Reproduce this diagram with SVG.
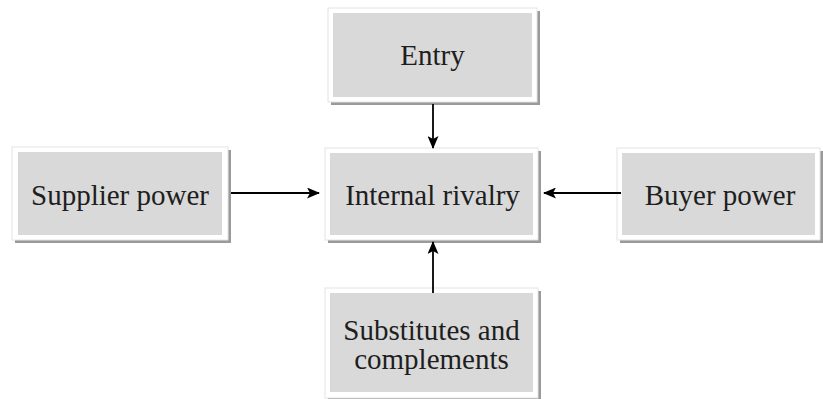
<svg xmlns="http://www.w3.org/2000/svg" width="823" height="399" viewBox="0 0 823 399">
  <defs>
    <style>
      .shadow { fill: #9a9a9a; }
      .frame { fill: #ffffff; stroke: #e4e4e4; stroke-width: 1; }
      .face { fill: #d9d9d9; }
      .label { font-family: "Liberation Serif", "Times New Roman", serif; font-size: 29px; fill: #1e1e1e; text-anchor: middle; }
      .link { stroke: #000000; stroke-width: 1.8; fill: none; marker-end: url(#head); }
    </style>
    <marker id="head" viewBox="0 0 13 11" refX="12" refY="5.5" markerWidth="13" markerHeight="11" markerUnits="userSpaceOnUse" orient="auto">
      <path d="M0,0 L13,5.5 L0,11 L3,5.5 Z" fill="#000000"/>
    </marker>
  </defs>
  <rect width="823" height="399" fill="#ffffff"/>

  <g id="entry">
    <rect class="shadow" x="331" y="11" width="209" height="94"/>
    <rect class="frame" x="328" y="8" width="209" height="94"/>
    <rect class="face" x="333" y="13" width="199" height="84"/>
    <text class="label" x="432.5" y="65">Entry</text>
  </g>

  <g id="supplier-power">
    <rect class="shadow" x="15" y="150" width="216" height="93"/>
    <rect class="frame" x="12" y="147" width="216" height="93"/>
    <rect class="face" x="18" y="152" width="204" height="83"/>
    <text class="label" x="120" y="205">Supplier power</text>
  </g>

  <g id="internal-rivalry">
    <rect class="shadow" x="328" y="151" width="213" height="92"/>
    <rect class="frame" x="325" y="148" width="213" height="92"/>
    <rect class="face" x="330" y="153" width="203" height="82"/>
    <text class="label" x="432.5" y="205">Internal rivalry</text>
  </g>

  <g id="buyer-power">
    <rect class="shadow" x="620" y="151" width="203" height="92"/>
    <rect class="frame" x="617" y="148" width="203" height="92"/>
    <rect class="face" x="622" y="153" width="193" height="82"/>
    <text class="label" x="720" y="205">Buyer power</text>
  </g>

  <g id="substitutes-complements">
    <rect class="shadow" x="328" y="291" width="213" height="112"/>
    <rect class="frame" x="325" y="288" width="213" height="110"/>
    <rect class="face" x="330" y="293" width="203" height="99"/>
    <text class="label" x="431.5" y="340">Substitutes and</text>
    <text class="label" x="431.5" y="369">complements</text>
  </g>

  <g id="connectors">
    <line class="link" x1="433" y1="104" x2="433" y2="148"/>
    <line class="link" x1="231" y1="193" x2="319" y2="193"/>
    <line class="link" x1="621" y1="193" x2="544" y2="193"/>
    <line class="link" x1="433" y1="293" x2="433" y2="242"/>
  </g>
</svg>
